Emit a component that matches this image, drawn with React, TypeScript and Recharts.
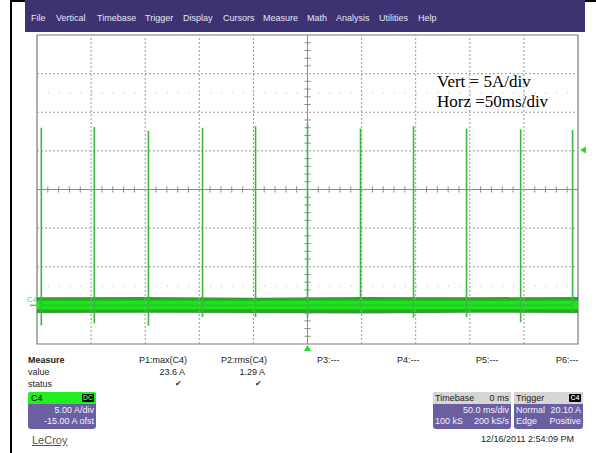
import React from "react";
import {
  ComposedChart,
  Line,
  Area,
  XAxis,
  YAxis,
  ReferenceLine,
  ReferenceArea,
  ReferenceDot,
} from "recharts";

// ---- data ----
// time axis: 50 ms/div, 10 divisions, trigger at 0 ms (centre)
const timeGrid = [-200, -150, -100, -50, 50, 100, 150, 200];
// amplitude axis: 5 A/div, offset -15 A -> screen spans -5 A .. 35 A
const ampGrid = [0, 5, 10, 20, 25, 30];
const dotRows = [27.5, 2.5];

// current pulses (ms, A)
const spikeTimes = [-246, -197, -147, -97, -48, 0, 49, 98, 147, 197, 245];
const spikePeaks = [23.0, 23.1, 22.6, 23.0, 23.2, 23.6, 22.9, 23.2, 22.9, 22.8, 22.7];
const spikeTroughs = [-2.6, -2.3, -2.6, -1.5, -1.5, -1.6, -1.0, -1.6, -1.5, -2.2, -1.0];

// noise envelope of the baseline (A)
const bandTimes = [-250, -150, -50, 50, 150, 250];
const innerLow = [-0.52, -0.55, -0.5, -0.52, -0.5, -0.52];
const innerHigh = [0.6, 0.62, 0.6, 0.64, 0.6, 0.62];
const outerLow = [-1.0, -0.95, -1.0, -1.05, -0.95, -1.0];
const outerHigh = [1.05, 1.1, 1.0, 1.1, 1.05, 1.1];

const menuItems = ["File", "Vertical", "Timebase", "Trigger", "Display", "Cursors", "Measure", "Math", "Analysis", "Utilities", "Help"];
const menuX = [31, 56, 97, 145, 183, 223, 263, 307, 336, 379, 418];

const paramLabels = ["P1:max(C4)", "P2:rms(C4)", "P3:---", "P4:---", "P5:---", "P6:---"];
const paramValues = ["23.6 A", "1.29 A", "", "", "", ""];
const paramRight = [185, 265, 0, 0, 0, 0];
const paramLeft = [139, 221, 317, 397, 476, 556];

const TRIGGER_LEVEL = 20.1;

const spikeData = spikeTimes.flatMap((t, i) => [
  { t, v: 0 },
  { t, v: spikePeaks[i] },
  { t, v: spikeTroughs[i] },
  { t, v: 0 },
]);
const innerBand = bandTimes.map((t, i) => ({ t, band: [innerLow[i], innerHigh[i]] }));
const outerBand = bandTimes.map((t, i) => ({ t, band: [outerLow[i], outerHigh[i]] }));

const minorT: number[] = [];
for (let t = -240; t <= 240; t += 10) if (t % 50 !== 0) minorT.push(t);
const minorA: number[] = [];
for (let a = -4; a <= 34; a += 1) if (a % 5 !== 0) minorA.push(a);

const FONT = '"Liberation Sans", Arial, sans-serif';

const abs = (left: number, top: number, extra: React.CSSProperties = {}): React.CSSProperties => ({
  position: "absolute",
  left,
  top,
  ...extra,
});

function TriLeft(props: any) {
  const { cx, cy } = props;
  const x = cx + 2;
  return <polygon points={`${x},${cy} ${x + 6},${cy - 3.5} ${x + 6},${cy + 3.5}`} fill="#22dd22" />;
}
function TriUp(props: any) {
  const { cx, cy } = props;
  const y = cy + 1;
  return <polygon points={`${cx},${y} ${cx - 3.5},${y + 6} ${cx + 3.5},${y + 6}`} fill="#22dd22" />;
}
function GroundMark(props: any) {
  const { cx, cy } = props;
  return (
    <g>
      <line x1={cx - 7} y1={cy} x2={cx} y2={cy} stroke="#33dd33" strokeWidth={1.5} />
      <text x={cx - 10} y={cy - 3} fontSize={8} fontFamily={FONT} fill="#44dd44">
        C4
      </text>
    </g>
  );
}

export default function App() {
  return (
    <div
      style={{
        position: "absolute",
        left: 0,
        top: 0,
        width: 596,
        height: 453,
        background: "#fff",
        overflow: "hidden",
        fontFamily: FONT,
        fontSize: 9,
        color: "#222",
      }}
    >
      {/* outer frame */}
      <div style={abs(10, 0, { width: 2, height: 453, background: "#000" })} />
      <div style={abs(10, 0, { width: 586, height: 2, background: "#000" })} />
      {/* menu bar */}
      <div style={abs(25, 0, { width: 560, height: 32, background: "#3e3372" })} />
      {menuItems.map((m, i) => (
        <div key={m} style={abs(menuX[i], 13, { color: "#e6e6f4", fontSize: 9, lineHeight: "10px", whiteSpace: "nowrap" })}>
          {m}
        </div>
      ))}

      {/* the scope display */}
      <div style={abs(0, 0)}>
        <ComposedChart width={596} height={453} margin={{ top: 35, right: 18, bottom: 109, left: 37 }}>
          <XAxis type="number" dataKey="t" domain={[-250, 250]} hide allowDataOverflow />
          <YAxis type="number" domain={[-5, 35]} hide allowDataOverflow />

          {timeGrid.map((t) => (
            <ReferenceLine key={"gx" + t} x={t} stroke="#9a9a9a" strokeDasharray="2 2" strokeWidth={1} />
          ))}
          {ampGrid.map((a) => (
            <ReferenceLine key={"gy" + a} y={a} stroke="#9a9a9a" strokeDasharray="2 2" strokeWidth={1} />
          ))}
          {dotRows.map((a) => (
            <ReferenceLine key={"dr" + a} y={a} stroke="#b5b5b5" strokeDasharray="1 9.82" strokeWidth={1} />
          ))}
          <ReferenceLine x={0} stroke="#8a8a8a" strokeWidth={1} />
          <ReferenceLine y={15} stroke="#8a8a8a" strokeWidth={1} />
          {minorT.map((t) => (
            <ReferenceLine key={"mt" + t} segment={[{ x: t, y: 14.6 }, { x: t, y: 15.4 }]} stroke="#8a8a8a" />
          ))}
          {minorA.map((a) => (
            <ReferenceLine key={"ma" + a} segment={[{ x: -2.8, y: a }, { x: 2.8, y: a }]} stroke="#8a8a8a" />
          ))}
          <ReferenceArea x1={-250} x2={250} y1={-5} y2={35} fill="none" stroke="#7a7a7a" strokeWidth={1.2} ifOverflow="visible" />

          <Line
            data={spikeData}
            dataKey="v"
            type="linear"
            stroke="#3cb83c"
            strokeWidth={1.6}
            dot={false}
            isAnimationActive={false}
          />
          <Area
            data={outerBand}
            dataKey="band"
            type="linear"
            stroke="none"
            fill="#0f8f0f"
            fillOpacity={0.85}
            isAnimationActive={false}
          />
          <Area
            data={innerBand}
            dataKey="band"
            type="linear"
            stroke="none"
            fill="#12ea12"
            fillOpacity={1}
            isAnimationActive={false}
          />

          <ReferenceDot x={250} y={TRIGGER_LEVEL} ifOverflow="visible" shape={TriLeft} />
          <ReferenceDot x={0} y={-5} ifOverflow="visible" shape={TriUp} />
          <ReferenceDot x={-250} y={0} ifOverflow="visible" shape={GroundMark} />
        </ComposedChart>
      </div>

      {/* annotation */}
      <div style={abs(437, 72, { fontFamily: '"Liberation Serif", "Times New Roman", serif', fontSize: 17, lineHeight: "20px", color: "#000", whiteSpace: "nowrap" })}>
        <div>Vert = 5A/div</div>
        <div>Horz =50ms/div</div>
      </div>

      {/* measure table */}
      <div style={abs(28, 355, { fontWeight: "bold", lineHeight: "10px" })}>Measure</div>
      <div style={abs(28, 367, { lineHeight: "10px" })}>value</div>
      <div style={abs(28, 379, { lineHeight: "10px" })}>status</div>
      {paramLabels.map((p, i) => (
        <div key={p} style={abs(paramLeft[i], 355, { lineHeight: "10px", whiteSpace: "nowrap" })}>
          {p}
        </div>
      ))}
      {paramValues.map((v, i) =>
        v ? (
          <React.Fragment key={"v" + i}>
            <div style={abs(paramRight[i] - 60, 367, { width: 60, textAlign: "right", lineHeight: "10px" })}>{v}</div>
            <div style={abs(paramRight[i] - 60, 379, { width: 57, textAlign: "right", lineHeight: "10px", fontSize: 8, color: "#333" })}>
              ✔
            </div>
          </React.Fragment>
        ) : null
      )}

      {/* C4 channel box */}
      <div style={abs(28, 392, { width: 68, height: 37, background: "#6b5fa2", borderRadius: 3, overflow: "hidden" })}>
        <div style={{ height: 12, background: "#22ee22", position: "relative" }}>
          <div style={abs(3, 1, { color: "#000", lineHeight: "10px" })}>C4</div>
          <div style={abs(54, 2, { width: 12, height: 8, background: "#000", color: "#33ee33", fontSize: 7, lineHeight: "8px", textAlign: "center", fontWeight: "bold", borderRadius: 1 })}>
            DC
          </div>
        </div>
        <div style={{ textAlign: "right", paddingRight: 2, color: "#f2f2ff", lineHeight: "11px", marginTop: 1 }}>
          <div>5.00 A/div</div>
          <div>-15.00 A ofst</div>
        </div>
      </div>

      {/* LeCroy */}
      <div style={abs(32, 434, { fontSize: 11, color: "#555", textDecoration: "underline", lineHeight: "13px" })}>LeCroy</div>

      {/* Timebase box */}
      <div style={abs(433, 392, { width: 78, height: 37, background: "#6b5fa2", borderRadius: 3, overflow: "hidden" })}>
        <div style={{ height: 12, background: "#d6d6d6", position: "relative", color: "#222" }}>
          <div style={abs(2, 1, { lineHeight: "10px" })}>Timebase</div>
          <div style={{ position: "absolute", right: 2, top: 1, lineHeight: "10px" }}>0 ms</div>
        </div>
        <div style={{ position: "relative", color: "#f2f2ff", lineHeight: "11px" }}>
          <div style={{ position: "absolute", right: 2, top: 1 }}>50.0 ms/div</div>
          <div style={{ position: "absolute", left: 2, top: 12 }}>100 kS</div>
          <div style={{ position: "absolute", right: 2, top: 12 }}>200 kS/s</div>
        </div>
      </div>

      {/* Trigger box */}
      <div style={abs(514, 392, { width: 69, height: 37, background: "#6b5fa2", borderRadius: 3, overflow: "hidden" })}>
        <div style={{ height: 12, background: "#d6d6d6", position: "relative", color: "#222" }}>
          <div style={abs(2, 1, { lineHeight: "10px" })}>Trigger</div>
          <div style={{ position: "absolute", right: 2, top: 2, width: 12, height: 8, background: "#000", color: "#dddddd", fontSize: 7, lineHeight: "8px", textAlign: "center", fontWeight: "bold", borderRadius: 1 }}>
            C4
          </div>
        </div>
        <div style={{ position: "relative", color: "#f2f2ff", lineHeight: "11px" }}>
          <div style={{ position: "absolute", left: 2, top: 1 }}>Normal</div>
          <div style={{ position: "absolute", right: 2, top: 1 }}>20.10 A</div>
          <div style={{ position: "absolute", left: 2, top: 12 }}>Edge</div>
          <div style={{ position: "absolute", right: 2, top: 12 }}>Positive</div>
        </div>
      </div>

      {/* date */}
      <div style={abs(454, 434, { width: 120, textAlign: "right", lineHeight: "10px", whiteSpace: "nowrap" })}>12/16/2011 2:54:09 PM</div>
    </div>
  );
}
